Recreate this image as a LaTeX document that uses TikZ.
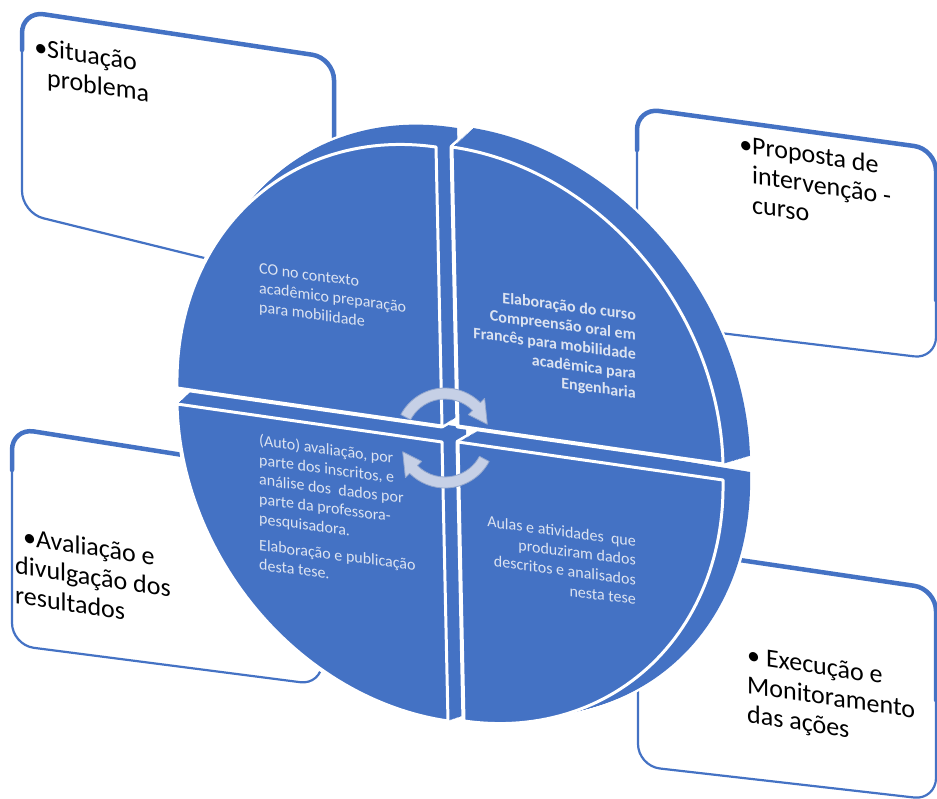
\documentclass[tikz,border=0pt]{standalone}
\usepackage{fontspec}
\setmainfont{Carlito}
\definecolor{disk}{HTML}{4472C4}
\definecolor{qtext}{HTML}{DCE3F1}
\definecolor{arrowfill}{HTML}{C6D0E6}
\definecolor{arrowedge}{HTML}{93A7CE}

% one quarter of the disk face, swept back by fraction #2 of the depth
\newcommand{\wedgeat}[4]{%
  \path[#1] ({450+24*#2},{434-14*#2}) -- plot[domain=#3:#4, samples=60, variable=\ang]
   ({450+24*#2+(265+3*#2)*cos(\ang)+(6+3*#2)*sin(\ang)},
    {434-14*#2+(38+6*#2)*cos(\ang)+(279+5*#2)*sin(\ang)}) -- cycle;}

% an extruded quarter: white halo, solid body, then the front face
\newcommand{\diskpiece}[4]{%
  \begin{scope}[shift={(#3,#4)}]
    \foreach \k in {0,...,20}{\wedgeat{draw=white, line width=5, line join=round}{\k/20}{#1}{#2}}
    \foreach \k in {0,...,20}{\wedgeat{fill=disk}{\k/20}{#1}{#2}}
    \wedgeat{fill=disk, draw=white, line width=3, line join=round}{0}{#1}{#2}
  \end{scope}}

\tikzset{
  panel/.style={fill=white, draw=disk, line width=2.2, rounded corners=22, line join=round},
  panelrim/.style={draw=disk, line width=4.5, rounded corners=22, line cap=round},
  boxtxt/.style={font=\fontsize{26}{29.5}\selectfont, text=black, inner sep=0,
                 yslant=-0.15, align=left, anchor=north west},
  qtxt/.style={font=\fontsize{16}{19.5}\selectfont, text=qtext, inner sep=0, yslant=-0.13},
  qbold/.style={qtxt, font=\fontsize{16}{19.5}\selectfont\bfseries},
  cyclearrow/.style={fill=arrowfill, draw=arrowedge, line width=0.8, line join=round}
}

\begin{document}
\begin{tikzpicture}[x=1pt,y=-1pt]
\useasboundingbox (0,0) rectangle (937,798);

% corner panels
\path[panel] (22,11) -- (334,58) -- (334,290) -- (22,213) -- cycle;
\draw[panelrim] (22,50) -- (22,11) -- (334,58) -- (334,200);

\path[panel] (637,108) -- (936,149) -- (936,359) -- (637,323) -- cycle;
\draw[panelrim] (637,150) -- (637,108) -- (936,149) -- (936,300);

\path[panel] (12,428) -- (322,477) -- (322,685) -- (12,645) -- cycle;
\draw[panelrim] (12,470) -- (12,428) -- (322,477) -- (322,560);

\path[panel] (638,545) -- (936,589) -- (936,800) -- (638,766) -- cycle;
\draw[panelrim] (638,600) -- (638,545) -- (936,589) -- (936,700);

% the four extruded quarters of the disk
\diskpiece{90}{180}{-8}{8}
\diskpiece{180}{270}{-8}{-8}
\diskpiece{0}{90}{8}{8}
\diskpiece{270}{360}{8}{-8}

% circular arrows in the middle
\begin{scope}[shift={(445,438)}]
  \path[cyclearrow] (-152:50) arc[start angle=-152, end angle=-45, radius=50]
    -- (-45:56) -- (-18:44.5) -- (-45:33) -- (-45:39)
    arc[start angle=-45, end angle=-152, radius=39] -- cycle;
  \path[cyclearrow] (28:50) arc[start angle=28, end angle=135, radius=50]
    -- (135:56) -- (162:44.5) -- (135:33) -- (135:39)
    arc[start angle=135, end angle=28, radius=39] -- cycle;
\end{scope}

% texts on the quarters
\node[qtxt, align=left, anchor=north west] (qtl) at (259,263)
  {CO no contexto\\acadêmico preparação\\para mobilidade};
\node[qbold, align=right, anchor=north east] (qtr) at (636,309)
  {Elaboração do curso\\Compreensão oral em\\Francês para mobilidade\\acadêmica para\\Engenharia};
\node[qtxt, align=left, anchor=north west] (qbl) at (259,434)
  {(Auto) avaliação, por\\parte dos inscritos, e\\análise dos~ dados por\\parte da professora-\\pesquisadora.\\[7pt]Elaboração e publicação\\desta tese.};
\node[qtxt, align=right, anchor=north east] (qbr) at (636,535)
  {Aulas e atividades~ que\\produziram dados\\descritos e analisados\\nesta tese};

% texts of the corner panels
\node[boxtxt] (ptl) at (47,39) {\llap{\textbullet}Situação\\problema};
\node[boxtxt] (ptr) at (752,136) {\llap{\textbullet}Proposta de\\intervenção -\\curso};
\node[boxtxt] (pbl) at (15,526) {\hspace*{8pt}\textbullet Avaliação e\\divulgação dos\\resultados};
\node[boxtxt] (pbr) at (747,646) {\textbullet{} Execução e\\Monitoramento\\das ações};
\end{tikzpicture}
\end{document}
